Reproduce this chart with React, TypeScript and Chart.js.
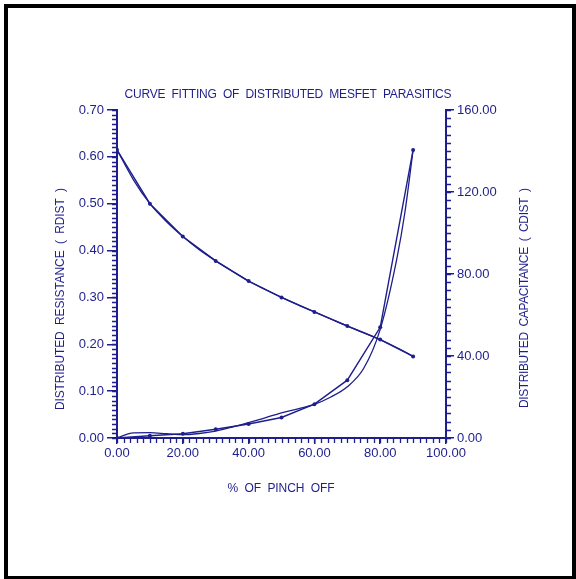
import React, { useEffect, useRef } from "react";
import { Chart, registerables } from "chart.js";

Chart.register(...registerables);

const pinchOff = [0, 10, 20, 30, 40, 50, 60, 70, 80, 90];
const rdist = [0.615, 0.5, 0.43, 0.378, 0.335, 0.3, 0.269, 0.239, 0.21, 0.174];
const cdist = [0, 1.1, 2.1, 4.3, 6.8, 10.0, 16.5, 28.2, 54, 140.5];

const fitPinchOff = [0, 5, 10, 15, 20, 25, 30, 35, 40, 45, 50, 55, 60, 65, 70, 75, 80, 85, 87.5, 90];
const rdistFit = [0.615, 0.551, 0.5, 0.462, 0.43, 0.402, 0.378, 0.356, 0.335, 0.317, 0.3, 0.284, 0.269, 0.254, 0.239, 0.225, 0.21, 0.193, 0.184, 0.174];
const cdistFit = [0, 2.5, 2.6, 2.1, 1.6, 2.2, 3.4, 5.3, 7.5, 9.8, 12.3, 14.2, 16.4, 20, 25, 34, 53, 87, 110, 140.5];

const xTicks = [0, 20, 40, 60, 80, 100];
const leftTicks = [0, 0.1, 0.2, 0.3, 0.4, 0.5, 0.6, 0.7];
const rightTicks = [0, 40, 80, 120, 160];

const TITLE = "CURVE  FITTING  OF  DISTRIBUTED  MESFET  PARASITICS";
const X_TITLE = "%  OF  PINCH  OFF";
const Y_TITLE = "DISTRIBUTED  RESISTANCE  (  RDIST  )";
const Y1_TITLE = "DISTRIBUTED  CAPACITANCE  (  CDIST  )";

const NAVY = "#1e1e8c";
const FONT = "'Liberation Sans', Arial, sans-serif";

function fitText(ctx: CanvasRenderingContext2D, text: string, cx: number, cy: number, target: number, size: number, rot: number) {
  ctx.save();
  ctx.translate(cx, cy);
  ctx.rotate(rot);
  ctx.font = `${size}px ${FONT}`;
  ctx.fillStyle = NAVY;
  ctx.textBaseline = "middle";
  ctx.textAlign = "left";
  (ctx as any).letterSpacing = "0px";
  const w0 = ctx.measureText(text).width;
  const sp = (target - w0) / Math.max(1, text.length - 1);
  (ctx as any).letterSpacing = `${sp}px`;
  ctx.fillText(text, -target / 2, 0);
  ctx.restore();
}

const decoPlugin = {
  id: "deco",
  afterDraw(chart: any) {
    const ctx = chart.ctx as CanvasRenderingContext2D;
    const { x, y, y1 } = chart.scales;
    ctx.save();
    ctx.strokeStyle = NAVY;
    ctx.lineWidth = 1.3;
    ctx.beginPath();
    for (let v = 0; v <= 100.001; v += 2) {
      const px = Math.round(x.getPixelForValue(v)) + 0.5;
      ctx.moveTo(px, x.top);
      ctx.lineTo(px, x.top + 5);
    }
    for (let i = 0; i <= 70; i++) {
      const py = Math.round(y.getPixelForValue(i / 100)) + 0.5;
      ctx.moveTo(y.right, py);
      ctx.lineTo(y.right - 5, py);
    }
    for (let v = 0; v <= 160.001; v += 4) {
      const py = Math.round(y1.getPixelForValue(v)) + 0.5;
      ctx.moveTo(y1.left, py);
      ctx.lineTo(y1.left + 5, py);
    }
    ctx.stroke();
    ctx.restore();
    fitText(ctx, TITLE, 288, 95, 327, 12, 0);
    fitText(ctx, X_TITLE, 281, 489, 107, 12, 0);
    fitText(ctx, Y_TITLE, 61, 299, 222, 12, -Math.PI / 2);
    fitText(ctx, Y1_TITLE, 525, 298, 220, 12, -Math.PI / 2);
  },
};

export default function App() {
  const ref = useRef<HTMLCanvasElement>(null);
  useEffect(() => {
    const c = ref.current;
    if (!c) return;
    const tickFont = { family: FONT, size: 13 };
    const chart = new Chart(c, {
      type: "scatter",
      data: {
        datasets: [
          {
            label: "RDIST",
            data: pinchOff.map((p, i) => ({ x: p, y: rdist[i] })),
            yAxisID: "y",
            showLine: true,
            borderColor: NAVY,
            backgroundColor: NAVY,
            borderWidth: 1.4,
            pointRadius: 2,
            pointBorderWidth: 0,
            tension: 0,
          },
          {
            label: "RDIST fit",
            data: fitPinchOff.map((p, i) => ({ x: p, y: rdistFit[i] })),
            yAxisID: "y",
            showLine: true,
            borderColor: NAVY,
            borderWidth: 1.3,
            pointRadius: 0,
            cubicInterpolationMode: "monotone",
          },
          {
            label: "CDIST",
            data: pinchOff.map((p, i) => ({ x: p, y: cdist[i] })),
            yAxisID: "y1",
            showLine: true,
            borderColor: NAVY,
            backgroundColor: NAVY,
            borderWidth: 1.4,
            pointRadius: 2,
            pointBorderWidth: 0,
            tension: 0,
          },
          {
            label: "CDIST fit",
            data: fitPinchOff.map((p, i) => ({ x: p, y: cdistFit[i] })),
            yAxisID: "y1",
            showLine: true,
            borderColor: NAVY,
            borderWidth: 1.3,
            pointRadius: 0,
            cubicInterpolationMode: "monotone",
          },
        ],
      },
      options: {
        animation: false,
        responsive: false,
        maintainAspectRatio: false,
        layout: { padding: { top: 110, left: 0, right: 0, bottom: 0 } },
        plugins: { legend: { display: false }, tooltip: { enabled: false }, title: { display: false } },
        scales: {
          x: {
            type: "linear",
            min: 0,
            max: 100,
            afterBuildTicks: (s: any) => { s.ticks = xTicks.map((v) => ({ value: v })); },
            afterFit: (s: any) => { s.height = 141; },
            ticks: { color: NAVY, font: tickFont, padding: 2, maxRotation: 0, callback: (v: any) => Number(v).toFixed(2) },
            grid: { drawOnChartArea: false, tickLength: 6, color: NAVY, lineWidth: 1.5 },
            border: { color: NAVY, width: 2 },
          },
          y: {
            type: "linear",
            position: "left",
            min: 0,
            max: 0.7,
            afterBuildTicks: (s: any) => { s.ticks = leftTicks.map((v) => ({ value: v })); },
            afterFit: (s: any) => { s.width = 117; },
            ticks: { color: NAVY, font: tickFont, padding: 3, callback: (v: any) => Number(v).toFixed(2) },
            grid: { drawOnChartArea: false, tickLength: 10, color: NAVY, lineWidth: 1.5 },
            border: { color: NAVY, width: 2 },
          },
          y1: {
            type: "linear",
            position: "right",
            min: 0,
            max: 160,
            afterBuildTicks: (s: any) => { s.ticks = rightTicks.map((v) => ({ value: v })); },
            afterFit: (s: any) => { s.width = 130; },
            ticks: { color: NAVY, font: tickFont, padding: 3, callback: (v: any) => Number(v).toFixed(2) },
            grid: { drawOnChartArea: false, tickLength: 8, color: NAVY, lineWidth: 1.5 },
            border: { color: NAVY, width: 2 },
          },
        },
      },
      plugins: [decoPlugin],
    } as any);
    return () => chart.destroy();
  }, []);

  return (
    <div style={{ position: "fixed", left: 0, top: 0, width: 576, height: 579, background: "#fff" }}>
      <div style={{ position: "absolute", left: 4, top: 4, width: 564, height: 568, border: "4px solid #000", borderBottomWidth: 3 }} />
      <canvas ref={ref} width={576} height={579} style={{ position: "absolute", left: 0, top: 0, width: 576, height: 579 }} />
    </div>
  );
}
